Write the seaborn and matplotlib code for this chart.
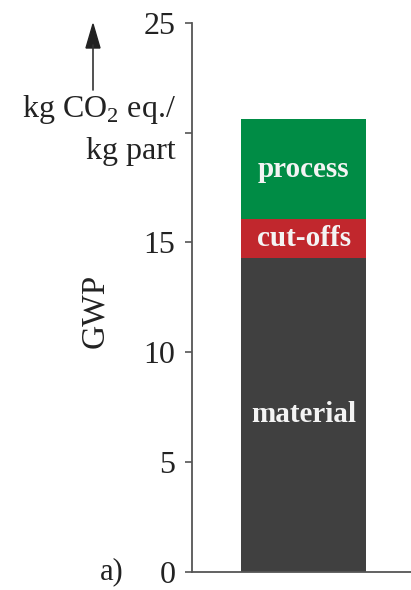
import numpy as np
import pandas as pd
import seaborn as sns
import matplotlib.pyplot as plt

# GWP contributions, kg CO2 eq. per kg part
segments = ["material", "cut-offs", "process"]
values = [14.3, 1.75, 4.55]
colors = ["#404040", "#c1272d", "#008c45"]
yticks = [0, 5, 10, 15, 20, 25]
ytick_labels = ["0", "5", "10", "15", "", "25"]

sns.set_theme(style="white")
plt.rcParams['font.family'] = ['Liberation Serif', 'DejaVu Serif']
plt.rcParams['mathtext.fontset'] = 'custom'
plt.rcParams['mathtext.rm'] = 'Liberation Serif'

fig = plt.figure(figsize=(4.11, 5.90), dpi=100)
ax = fig.add_axes([0.467, 0.0305, 0.56, 0.931])

tops = np.cumsum(values)
bottoms = tops - np.array(values)

# draw stacked bar as cumulative totals, tallest first
for i in reversed(range(len(segments))):
    df = pd.DataFrame({"part": ["a"], "gwp": [tops[i]]})
    sns.barplot(data=df, x="part", y="gwp", color=colors[i], saturation=1,
                width=0.8, ax=ax, linewidth=0)

for seg, b, t in zip(segments, bottoms, tops):
    ax.text(0, (b + t) / 2, seg, color="#f4f4f4", fontsize=21, fontweight="bold",
            ha="center", va="center")

ax.set_xlim(-0.716, 0.756)
ax.set_ylim(0, 25)
ax.set_yticks(yticks)
ax.set_yticklabels(ytick_labels, fontsize=23)
ax.set_xticks([])
ax.set_xlabel("")
ax.set_ylabel("GWP", fontsize=24, va="center", color="#222222")
ax.yaxis.set_label_coords(-0.42, 0.475)

for s in ["top", "right"]:
    ax.spines[s].set_visible(False)
for s in ["left", "bottom"]:
    ax.spines[s].set_color("#555555")
    ax.spines[s].set_linewidth(1.3)
ax.tick_params(axis="y", which="both", left=True, length=5, width=1.2,
               color="#555555", pad=7, labelcolor="#222222")

# unit annotation with arrow
fig.text(176 / 411, 1 - 110 / 590, r"kg CO$_\mathrm{2}$ eq./", fontsize=23,
         ha="right", va="center", color="#222222")
fig.text(176 / 411, 1 - 151 / 590, "kg part", fontsize=23,
         ha="right", va="center", color="#222222")
fig.add_artist(plt.Line2D([93 / 411, 93 / 411], [1 - 90 / 590, 1 - 45 / 590],
                          color="#333333", lw=1.2, transform=fig.transFigure))
fig.add_artist(plt.Polygon([[86 / 411, 1 - 48 / 590], [100 / 411, 1 - 48 / 590],
                            [93 / 411, 1 - 24 / 590]], closed=True,
                           color="#222222", transform=fig.transFigure))

fig.text(112 / 411, 1 - 572 / 590, "a)", fontsize=22, ha="center",
         va="center", color="#222222")

fig.savefig("out.png", dpi=100)
